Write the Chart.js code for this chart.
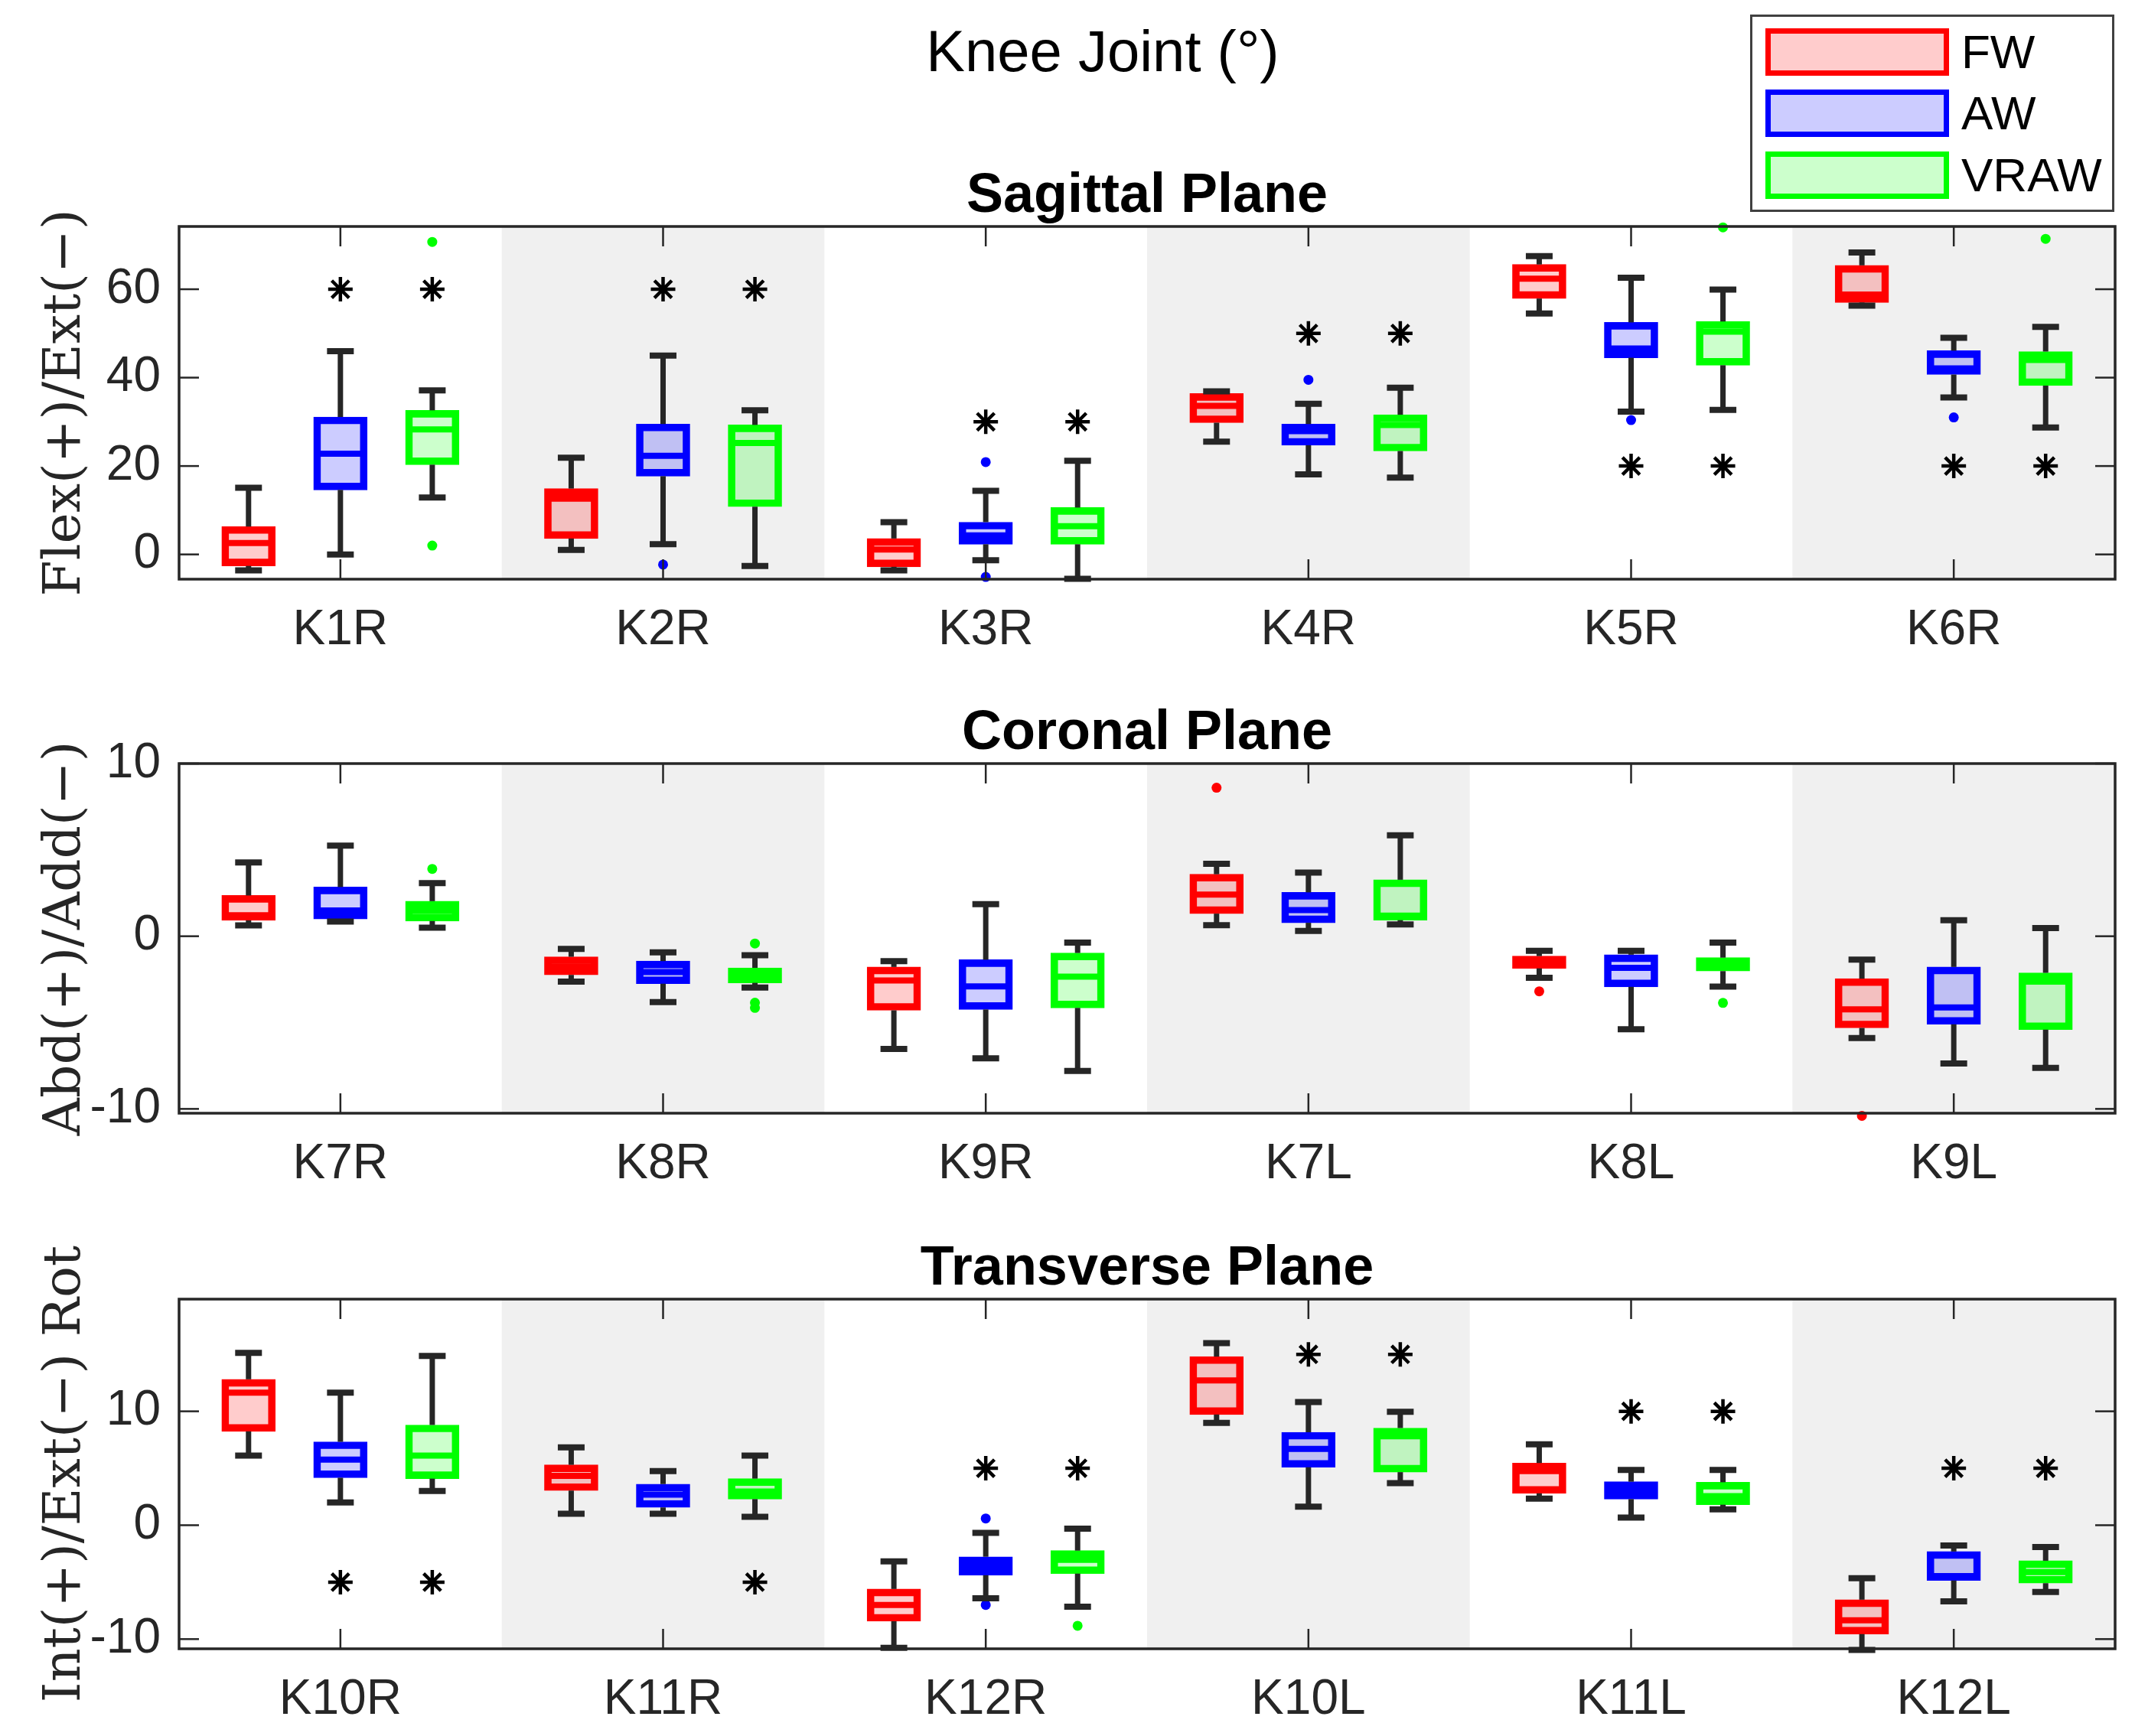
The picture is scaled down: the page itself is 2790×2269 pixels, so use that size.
<!DOCTYPE html>
<html>
<head>
<meta charset="utf-8">
<script src="https://cdn.jsdelivr.net/npm/chart.js@4"></script>
<style>
  html, body { margin: 0; padding: 0; background: #fff; }
  body { width: 2790px; height: 2269px; position: relative; overflow: hidden;
         font-family: 'Liberation Sans', Arial, sans-serif; }
  canvas { position: absolute; left: 0; }
  #mainTitle { position: absolute; left: 1441px; top: 66px; transform: translate(-50%, -50%);
               font-size: 76px; color: #000; white-space: nowrap; }
  #legend { position: absolute; left: 2287px; top: 19px; width: 476px; height: 258px;
            box-sizing: border-box; border: 3px solid #404040; background: #fff; }
  #legend .patch { position: absolute; left: 17px; width: 240px; height: 62px; box-sizing: border-box;
                   border: 7px solid; }
  #legend .lab { position: absolute; left: 273px; font-size: 62px; line-height: 62px; color: #000; }
</style>
</head>
<body>
<div id="mainTitle">Knee Joint (°)</div>
<canvas id="sag"></canvas>
<canvas id="cor"></canvas>
<canvas id="tra"></canvas>
<div id="legend"></div>
<script>
// groups and colours
const groups = ['FW', 'AW', 'VRAW'];
const lineColors = ['#ff0000', '#0000ff', '#00ff00'];
const fillColors = ['rgba(255,0,0,0.2)', 'rgba(0,0,255,0.2)', 'rgba(0,255,0,0.2)'];

// box stats per category: [lower whisker, q1, median, q3, upper whisker]
const sagLabels = ['K1R', 'K2R', 'K3R', 'K4R', 'K5R', 'K6R'];
const sagFW = [
  [-3.6, -2.6, 2.6, 6.3, 15.1],
  [1.0, 3.6, 12.6, 14.9, 21.9],
  [-3.6, -2.8, 1.1, 3.6, 7.3],
  [25.5, 29.8, 33.6, 36.4, 36.9],
  [54.5, 57.9, 62.4, 65.6, 67.5],
  [56.3, 57.0, 58.8, 65.4, 68.3]
];
const sagAW = [
  [0.0, 14.6, 22.8, 31.1, 46.0],
  [2.3, 17.7, 22.3, 29.5, 45.0],
  [-1.3, 2.3, 4.3, 7.3, 14.4],
  [18.1, 24.7, 27.9, 29.5, 34.1],
  [32.3, 44.5, 46.6, 52.5, 62.6],
  [35.5, 40.7, 42.1, 46.1, 49.0]
];
const sagVRAW = [
  [12.9, 20.3, 28.3, 32.6, 37.1],
  [-2.6, 10.8, 25.2, 29.3, 32.6],
  [-5.5, 2.3, 6.4, 10.6, 21.2],
  [17.4, 23.4, 29.3, 31.6, 37.7],
  [32.7, 42.8, 50.4, 52.7, 59.9],
  [28.7, 38.2, 44.0, 45.9, 51.5]
];
const sagOutFW = [];
const sagOutAW = [['K2R', -2.3], ['K3R', 20.9], ['K3R', -5.1], ['K4R', 39.5], ['K5R', 30.4], ['K6R', 31.0]];
const sagOutVRAW = [['K1R', 70.7], ['K1R', 2.0], ['K5R', 74.0], ['K6R', 71.4]];
const sagStars = [['K1R', 'AW', 60], ['K1R', 'VRAW', 60], ['K2R', 'AW', 60], ['K2R', 'VRAW', 60],
  ['K3R', 'AW', 30], ['K3R', 'VRAW', 30], ['K4R', 'AW', 50], ['K4R', 'VRAW', 50],
  ['K5R', 'AW', 20], ['K5R', 'VRAW', 20], ['K6R', 'AW', 20], ['K6R', 'VRAW', 20]];
const sagTicks = [0, 20, 40, 60];

const corLabels = ['K7R', 'K8R', 'K9R', 'K7L', 'K8L', 'K9L'];
const corFW = [
  [0.63, 0.92, 1.22, 2.36, 4.27],
  [-2.63, -2.24, -1.75, -1.19, -0.73],
  [-6.53, -4.29, -2.56, -1.78, -1.44],
  [0.64, 1.31, 2.41, 3.59, 4.19],
  [-2.41, -1.86, -1.6, -1.15, -0.85],
  [-5.9, -5.31, -4.24, -2.46, -1.36]
];
const corAW = [
  [0.85, 1.0, 1.49, 2.85, 5.25],
  [-3.81, -2.75, -2.07, -1.44, -0.93],
  [-7.07, -4.24, -2.9, -1.36, 1.86],
  [0.31, 0.78, 1.51, 2.54, 3.69],
  [-5.39, -2.93, -1.83, -1.07, -0.85],
  [-7.37, -5.1, -4.12, -1.78, 0.93]
];
const corVRAW = [
  [0.5, 0.88, 1.47, 2.03, 3.08],
  [-2.97, -2.7, -2.2, -1.83, -1.1],
  [-7.8, -4.15, -2.34, -0.97, -0.37],
  [0.68, 0.93, 1.19, 3.27, 5.85],
  [-2.92, -2.02, -1.5, -1.24, -0.37],
  [-7.63, -5.41, -2.63, -2.12, 0.47]
];
const corOutFW = [['K7L', 8.6], ['K8L', -3.19], ['K9L', -10.4]];
const corOutAW = [];
const corOutVRAW = [['K7R', 3.9], ['K8R', -0.42], ['K8R', -3.85], ['K8R', -4.15], ['K8L', -3.86]];
const corStars = [];
const corTicks = [-10, 0, 10];

const traLabels = ['K10R', 'K11R', 'K12R', 'K10L', 'K11L', 'K12L'];
const traFW = [
  [6.11, 8.24, 11.63, 12.81, 15.13],
  [1.0, 3.04, 4.33, 5.3, 6.84],
  [-10.77, -8.43, -7.0, -5.6, -3.18],
  [8.99, 9.72, 12.71, 14.8, 15.99],
  [2.34, 2.8, 4.76, 5.46, 7.1],
  [-10.95, -9.56, -8.34, -6.54, -4.66]
];
const traAW = [
  [1.99, 4.17, 5.76, 7.32, 11.63],
  [1.0, 1.56, 2.69, 3.61, 4.76],
  [-6.41, -4.39, -3.61, -2.77, -0.67],
  [1.62, 5.09, 6.7, 8.16, 10.82],
  [0.67, 2.29, 3.01, 3.82, 4.85],
  [-6.68, -4.85, -4.47, -2.31, -1.78]
];
const traVRAW = [
  [3.01, 4.09, 6.11, 8.8, 14.86],
  [0.73, 2.29, 2.96, 4.09, 6.11],
  [-7.16, -4.25, -3.04, -2.23, -0.3],
  [3.69, 4.66, 7.81, 8.53, 9.96],
  [1.4, 1.8, 2.56, 3.77, 4.85],
  [-5.87, -5.09, -4.12, -3.12, -1.91]
];
const traOutFW = [];
const traOutAW = [['K12R', 0.59], ['K12R', -7.0]];
const traOutVRAW = [['K12R', -8.83]];
const traStars = [['K10R', 'AW', -5], ['K10R', 'VRAW', -5], ['K11R', 'VRAW', -5],
  ['K12R', 'AW', 5], ['K12R', 'VRAW', 5], ['K10L', 'AW', 15], ['K10L', 'VRAW', 15],
  ['K11L', 'AW', 10], ['K11L', 'VRAW', 10], ['K12L', 'AW', 5], ['K12L', 'VRAW', 5]];
const traTicks = [-10, 0, 10];

const FONT = "'Liberation Sans', Arial, sans-serif";
const AXIS = '#262626';
const GROUP_STEP = 0.2847;   // distance between boxes of one category, in category units
const HEAD = 100;            // canvas space above the plot area
const FOOT = 110;            // canvas space below the plot area

// legend (html)
const legend = document.getElementById('legend');
groups.forEach((g, i) => {
  const p = document.createElement('div');
  p.className = 'patch';
  p.style.top = (14.5 + i * 80.5) + 'px';
  p.style.borderColor = lineColors[i];
  p.style.background = fillColors[i];
  legend.appendChild(p);
  const t = document.createElement('div');
  t.className = 'lab';
  t.style.top = (14.5 + i * 80.5) + 'px';
  t.textContent = g;
  legend.appendChild(t);
});

function line(ctx, x1, y1, x2, y2) {
  ctx.beginPath();
  ctx.moveTo(x1, y1);
  ctx.lineTo(x2, y2);
  ctx.stroke();
}

// whiskers, medians, shaded bands, inward ticks and frame
const boxPlot = {
  id: 'boxPlot',
  beforeDatasetsDraw(chart) {
    const { ctx, chartArea: a, scales } = chart;
    const xs = scales.xs;
    ctx.save();
    ctx.fillStyle = '#f0f0f0';
    for (let i = 1; i < scales.x.getLabels().length; i += 2) {
      const l = xs.getPixelForValue(i - 0.5), r = xs.getPixelForValue(i + 0.5);
      ctx.fillRect(l, a.top, r - l, a.height);
    }
    ctx.restore();
  },
  afterDatasetsDraw(chart) {
    const { ctx, scales: { y } } = chart;
    ctx.save();
    ctx.lineCap = 'butt';
    chart.data.datasets.forEach((ds, di) => {
      if (!ds.stats) return;
      chart.getDatasetMeta(di).data.forEach((bar, i) => {
        const s = ds.stats[i];
        const { x, width } = bar.getProps(['x', 'width'], true);
        const capW = width * 0.5;
        ctx.strokeStyle = AXIS;
        ctx.lineWidth = 7;
        line(ctx, x, y.getPixelForValue(s[3]), x, y.getPixelForValue(s[4]));
        line(ctx, x, y.getPixelForValue(s[1]), x, y.getPixelForValue(s[0]));
        ctx.lineWidth = 8;
        line(ctx, x - capW / 2, y.getPixelForValue(s[4]), x + capW / 2, y.getPixelForValue(s[4]));
        line(ctx, x - capW / 2, y.getPixelForValue(s[0]), x + capW / 2, y.getPixelForValue(s[0]));
        ctx.strokeStyle = ds.borderColor;
        ctx.lineWidth = 8;
        line(ctx, x - width / 2 + 4, y.getPixelForValue(s[2]), x + width / 2 - 4, y.getPixelForValue(s[2]));
      });
    });
    ctx.restore();
  },
  afterDraw(chart) {
    const { ctx, chartArea: a, scales: { x, y } } = chart;
    ctx.save();
    ctx.strokeStyle = AXIS;
    ctx.lineWidth = 2.5;
    const tl = 26;
    y.ticks.forEach(t => {
      const p = y.getPixelForValue(t.value);
      line(ctx, a.left, p, a.left + tl, p);
      line(ctx, a.right, p, a.right - tl, p);
    });
    x.ticks.forEach((t, i) => {
      const p = x.getPixelForTick(i);
      line(ctx, p, a.top, p, a.top + tl);
      line(ctx, p, a.bottom, p, a.bottom - tl);
    });
    ctx.lineWidth = 3.5;
    ctx.strokeRect(a.left, a.top, a.right - a.left, a.bottom - a.top);
    ctx.restore();
  }
};

function makePanel(id, labels, boxes, outs, stars, ticks, yMin, yMax, yTitle, title, axisTop, axisBottom) {
  const canvas = document.getElementById(id);
  const h = HEAD + (axisBottom - axisTop) + FOOT;
  canvas.width = 2790;
  canvas.height = h;
  canvas.style.width = '2790px';
  canvas.style.height = h + 'px';
  canvas.style.top = (axisTop - HEAD) + 'px';

  const slot = gi => (gi - 1) * GROUP_STEP;
  const datasets = [];
  groups.forEach((g, gi) => {
    datasets.push({
      type: 'bar',
      label: g,
      xAxisID: 'xs',
      grouped: false,
      data: boxes[gi].map((s, i) => ({ x: i + slot(gi), y: [s[1], s[3]] })),
      stats: boxes[gi],
      backgroundColor: fillColors[gi],
      borderColor: lineColors[gi],
      borderWidth: 9,
      borderSkipped: false,
      barThickness: 70
    });
  });
  groups.forEach((g, gi) => {
    datasets.push({
      type: 'scatter',
      label: g + ' outliers',
      xAxisID: 'xs',
      data: outs[gi].map(([lab, v]) => ({ x: labels.indexOf(lab) + slot(gi), y: v })),
      pointRadius: 6.5,
      pointBackgroundColor: lineColors[gi],
      pointBorderWidth: 0,
      clip: false
    });
  });
  datasets.push({
    type: 'scatter',
    label: 'significance',
    xAxisID: 'xs',
    data: stars.map(([lab, g, v]) => ({ x: labels.indexOf(lab) + slot(groups.indexOf(g)), y: v })),
    pointStyle: 'star',
    pointRadius: 16,
    borderColor: '#000',
    pointBorderColor: '#000',
    pointBorderWidth: 4.5,
    clip: false
  });

  new Chart(canvas, {
    type: 'bar',
    data: { labels: labels, datasets: datasets },
    options: {
      responsive: false,
      animation: false,
      layout: { padding: { top: 25, right: 26, bottom: 0, left: 0 } },
      plugins: {
        legend: { display: false },
        tooltip: { enabled: false },
        title: {
          display: true,
          text: title,
          fullSize: false,
          color: '#000',
          font: { family: FONT, size: 72, weight: 'bold', lineHeight: 1.0 },
          padding: { top: 0, bottom: 3 }
        }
      },
      scales: {
        x: {
          type: 'category',
          offset: true,
          grid: { display: false, drawTicks: false },
          border: { display: false },
          ticks: { color: AXIS, font: { family: FONT, size: 64 }, padding: 29, autoSkip: false, maxRotation: 0 },
          afterFit: s => { s.height = FOOT; }
        },
        xs: { type: 'linear', axis: 'x', min: -0.5, max: 5.5, offset: false, display: false },
        y: {
          type: 'linear',
          min: yMin,
          max: yMax,
          afterBuildTicks: s => { s.ticks = ticks.map(v => ({ value: v })); },
          grid: { display: false, drawTicks: false },
          border: { display: false },
          ticks: { color: AXIS, font: { family: FONT, size: 64 }, padding: 24 },
          title: {
            display: true,
            text: yTitle,
            color: AXIS,
            font: { family: "'DejaVu Serif', serif", size: 68, lineHeight: 1.2 },
            padding: { top: 46, bottom: 0 }
          },
          afterFit: s => { s.width = 234; }
        }
      }
    },
    plugins: [boxPlot]
  });
}

makePanel('sag', sagLabels, [sagFW, sagAW, sagVRAW], [sagOutFW, sagOutAW, sagOutVRAW], sagStars,
  sagTicks, -5.6, 74.2, 'Flex(+)/Ext(\u2212)', 'Sagittal Plane', 296, 757);
makePanel('cor', corLabels, [corFW, corAW, corVRAW], [corOutFW, corOutAW, corOutVRAW], corStars,
  corTicks, -10.25, 10, 'Abd(+)/Add(\u2212)', 'Coronal Plane', 998, 1455);
makePanel('tra', traLabels, [traFW, traAW, traVRAW], [traOutFW, traOutAW, traOutVRAW], traStars,
  traTicks, -10.85, 19.85, 'Int(+)/Ext(\u2212) Rot', 'Transverse Plane', 1698, 2155);
</script>
</body>
</html>
